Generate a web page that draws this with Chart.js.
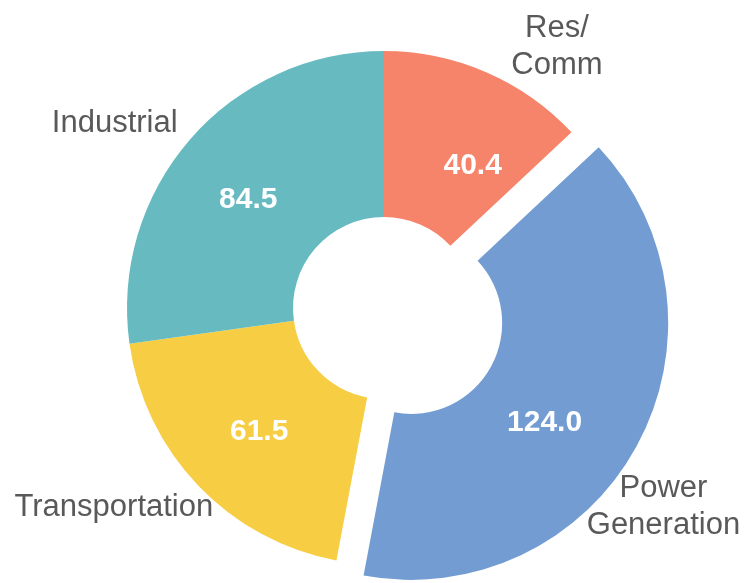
<!DOCTYPE html>
<html>
<head>
<meta charset="utf-8">
<script src="https://cdn.jsdelivr.net/npm/chart.js@4.4.1/dist/chart.umd.min.js"></script>
<style>
  html, body { margin: 0; padding: 0; background: #ffffff; }
  canvas { display: block; }
</style>
</head>
<body>
<canvas id="chart" width="747" height="583"></canvas>
<script>
// Emissions by sector
const sectors = ['Res/Comm', 'Power Generation', 'Transportation', 'Industrial'];
const sectorLabelLines = [['Res/', 'Comm'], ['Power', 'Generation'], ['Transportation'], ['Industrial']];
const emissions = [40.4, 124.0, 61.5, 84.5];
const sliceColors = ['#F5846A', '#739DD2', '#F6CD43', '#67BBC0'];

const DEG = Math.PI / 180;
const FONT_FAMILY = '"Liberation Sans", Arial, Helvetica, sans-serif';
const CAP = 0.716; // cap height of the font, in em

// Draws a block of centred lines whose visual middle sits at (x, y)
function drawTextBlock(ctx, lines, x, y, size, weight, color, lineHeight) {
  ctx.save();
  ctx.font = `${weight} ${size}px ${FONT_FAMILY}`;
  ctx.fillStyle = color;
  ctx.textAlign = 'center';
  ctx.textBaseline = 'alphabetic';
  const n = lines.length;
  const firstBaseline = y - ((n - 1) * lineHeight - CAP * size) / 2;
  lines.forEach((line, k) => ctx.fillText(line, x, firstBaseline + k * lineHeight));
  ctx.restore();
}

// Pulls chosen slices out of the ring and writes value / category labels
const sliceLabels = {
  id: 'sliceLabels',
  beforeDatasetDraw(chart, args, opts) {
    const ctx = chart.ctx;
    args.meta.data.forEach((arc, i) => {
      const { startAngle, endAngle } = arc.getProps(['startAngle', 'endAngle'], true);
      const mid = (startAngle + endAngle) / 2;
      const pull = opts.explode[i] || 0;
      ctx.save();
      ctx.translate(Math.cos(mid) * pull, Math.sin(mid) * pull);
      arc.draw(ctx, chart.chartArea);
      ctx.restore();
    });
    return false;
  },
  afterDatasetsDraw(chart, args, opts) {
    const ctx = chart.ctx;
    const meta = chart.getDatasetMeta(0);
    const values = chart.data.datasets[0].data;
    meta.data.forEach((arc, i) => {
      const p = arc.getProps(['x', 'y', 'startAngle', 'endAngle', 'innerRadius', 'outerRadius'], true);
      const mid = (p.startAngle + p.endAngle) / 2;
      const pull = opts.explode[i] || 0;
      const cx = p.x + Math.cos(mid) * pull;
      const cy = p.y + Math.sin(mid) * pull;

      const v = opts.valuePlacement[i];
      const va = mid + v.turn * DEG;
      const vr = p.innerRadius + (p.outerRadius - p.innerRadius) * v.depth;
      drawTextBlock(ctx, [values[i].toFixed(1)], cx + Math.cos(va) * vr, cy + Math.sin(va) * vr,
        opts.valueSize, 'bold', opts.valueColor, opts.valueSize * 1.2);

      const c = opts.namePlacement[i];
      const ca = mid + c.turn * DEG;
      const cr = p.outerRadius + c.gap;
      drawTextBlock(ctx, sectorLabelLines[i], cx + Math.cos(ca) * cr, cy + Math.sin(ca) * cr,
        opts.nameSize, 'normal', opts.nameColor, opts.nameLineHeight);
    });
  }
};

new Chart(document.getElementById('chart'), {
  type: 'doughnut',
  data: {
    labels: sectors,
    datasets: [{
      data: emissions,
      backgroundColor: sliceColors,
      borderWidth: 0
    }]
  },
  options: {
    responsive: false,
    animation: false,
    radius: 257,
    cutout: '35.4%',
    layout: { padding: { left: 21, top: 33, right: 0, bottom: 0 } },
    plugins: {
      legend: { display: false },
      tooltip: { enabled: false },
      sliceLabels: {
        explode: [0, 31, 0, 0],
        valueSize: 30,
        valueColor: '#ffffff',
        valuePlacement: [
          { turn: 8.0, depth: 0.476 },
          { turn: 7.3, depth: 0.446 },
          { turn: -0.5, depth: 0.5 },
          { turn: -1.9, depth: 0.506 }
        ],
        nameSize: 31,
        nameLineHeight: 37,
        nameColor: '#595959',
        namePlacement: [
          { turn: 9.8, gap: 58.6 },
          { turn: 7.0, gap: 53.9 },
          { turn: 7.6, gap: 77.2 },
          { turn: -6.2, gap: 70.9 }
        ]
      }
    }
  },
  plugins: [sliceLabels]
});
</script>
</body>
</html>
